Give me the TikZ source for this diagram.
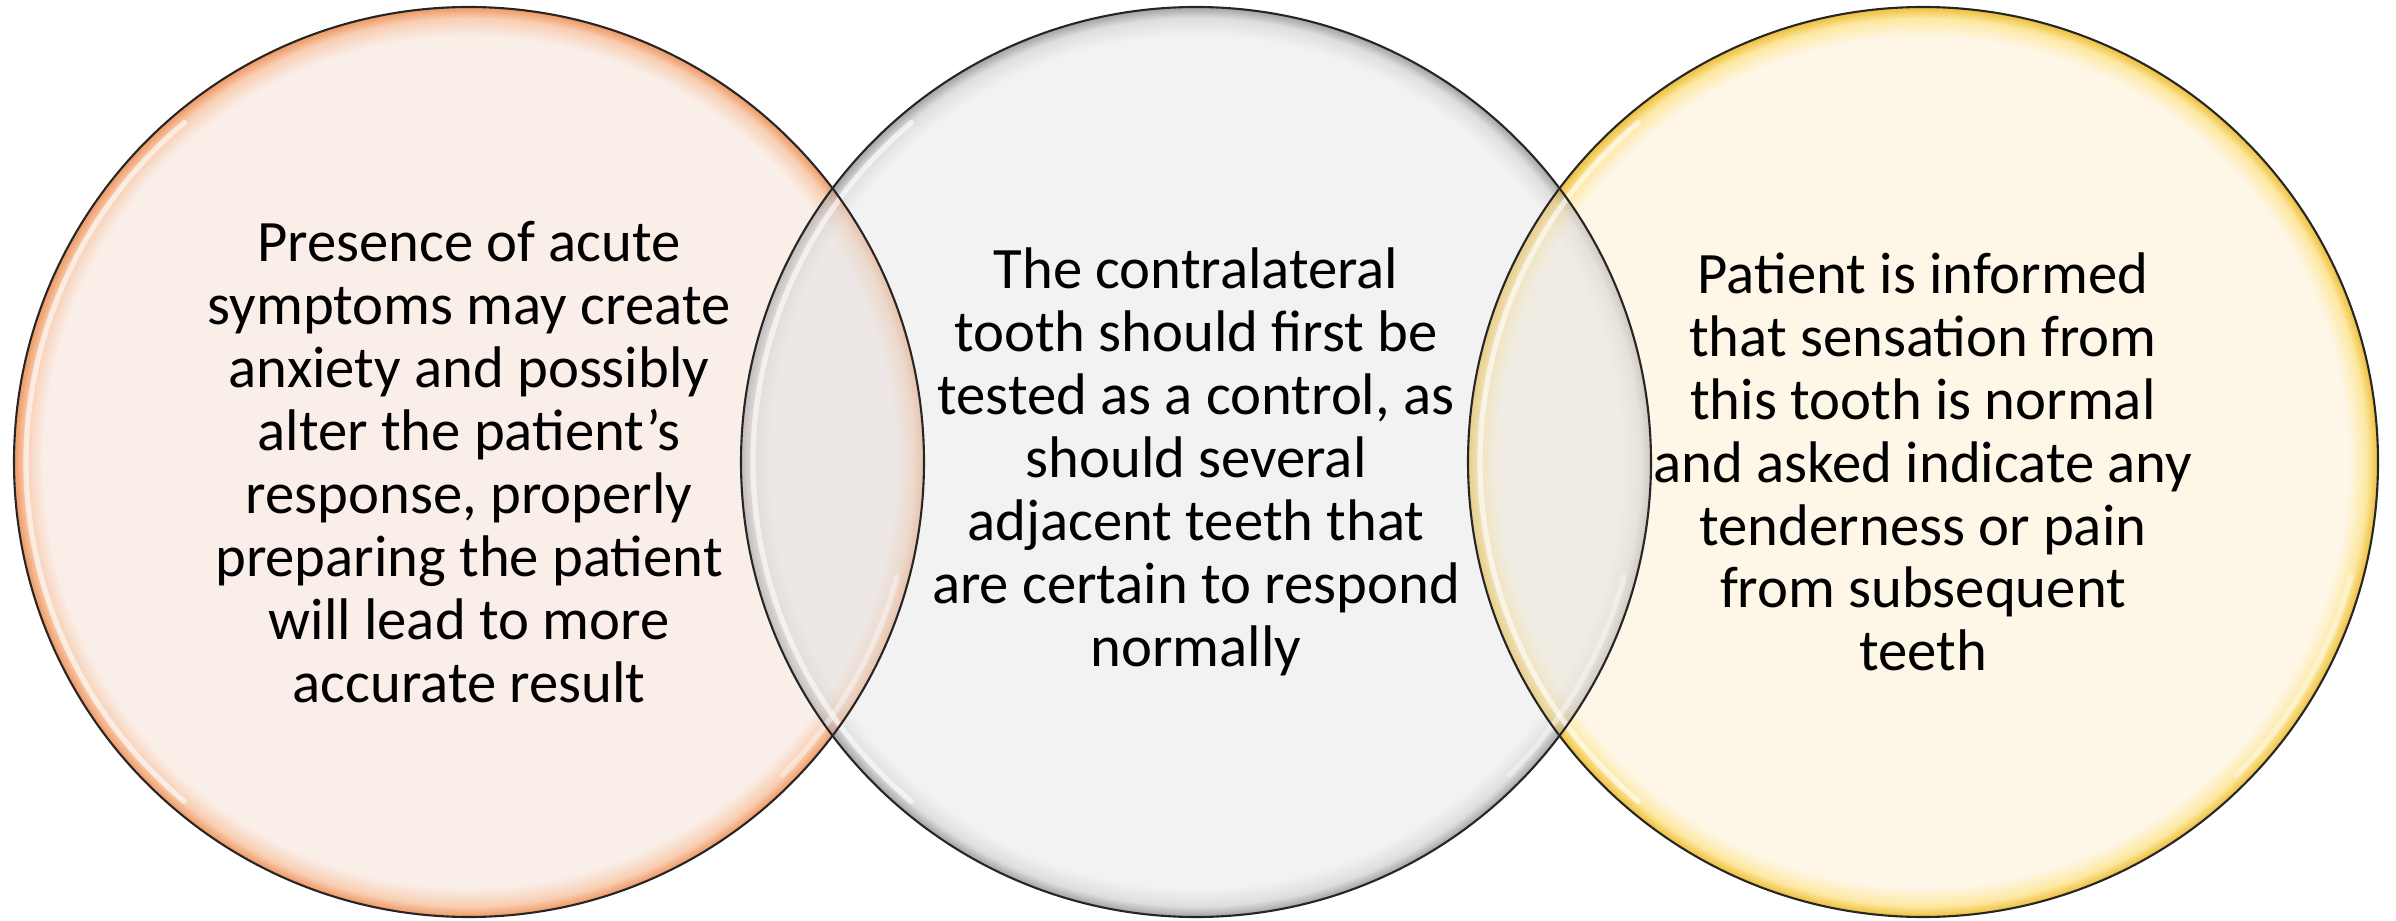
\documentclass[tikz,border=0pt]{standalone}
\usepackage{fontspec}
\setmainfont{Carlito}
\definecolor{Lfill}{RGB}{249,238,232}
\definecolor{Lrim}{RGB}{248,206,178}
\definecolor{Ldark}{RGB}{240,160,110}
\definecolor{Mfill}{RGB}{242,242,242}
\definecolor{Mrim}{RGB}{222,222,222}
\definecolor{Mdark}{RGB}{172,172,172}
\definecolor{Rfill}{RGB}{254,246,230}
\definecolor{Rrim}{RGB}{253,232,160}
\definecolor{Rdark}{RGB}{240,196,72}
\pgfdeclareradialshading{lshade}{\pgfpoint{0bp}{0bp}}{color(0bp)=(Lfill); color(23.4bp)=(Lfill); color(24.4bp)=(Lrim); color(24.9bp)=(Ldark); color(25bp)=(Ldark); color(50bp)=(Ldark)}
\pgfdeclareradialshading{mshade}{\pgfpoint{0bp}{0bp}}{color(0bp)=(Mfill); color(23.4bp)=(Mfill); color(24.4bp)=(Mrim); color(24.9bp)=(Mdark); color(25bp)=(Mdark); color(50bp)=(Mdark)}
\pgfdeclareradialshading{rshade}{\pgfpoint{0bp}{0bp}}{color(0bp)=(Rfill); color(23.4bp)=(Rfill); color(24.4bp)=(Rrim); color(24.9bp)=(Rdark); color(25bp)=(Rdark); color(50bp)=(Rdark)}
\begin{document}
\begin{tikzpicture}[
  bubble/.style={circle, minimum size=9.1cm, inner sep=0pt, outer sep=0pt},
  txt/.style={align=center, font=\fontsize{16.7}{17.9}\selectfont, text=black},
  gloss/.style={white, line width=1.5pt, opacity=0.6, line cap=round},
  rimline/.style={line width=0.6pt, black!85}]
\useasboundingbox (0,0) rectangle (23.96,9.20);
\node[bubble, shading=lshade] (L) at (4.69,4.58) {};
\node[bubble, shading=mshade] (M) at (11.96,4.58) {};
\node[bubble, shading=rshade] (R) at (19.23,4.58) {};
% overlaps
\begin{scope}
  \clip (M.center) circle (4.55);
  \shade[shading=lshade, opacity=0.45] (L.center) circle (4.55);
  \fill[black, opacity=0.03] (L.center) circle (4.55);
\end{scope}
\begin{scope}
  \clip (R.center) circle (4.55);
  \shade[shading=mshade, opacity=0.45] (M.center) circle (4.55);
  \fill[black, opacity=0.03] (M.center) circle (4.55);
\end{scope}
% gloss highlights
\foreach \c in {L,M,R}{
  \draw[gloss] ([shift={(130:4.43)}]\c.center) arc (130:230:4.43);
  \draw[gloss, opacity=0.4] ([shift={(-45:4.43)}]\c.center) arc (-45:-15:4.43);
}
% borders
\foreach \c in {L,M,R}{
  \draw[rimline] (\c.center) circle (4.55);
}
% texts
\node[txt] (tl) at (L.center) {Presence of acute\\symptoms may create\\anxiety and possibly\\alter the patient’s\\response, properly\\preparing the patient\\will lead to more\\accurate result};
\node[txt] (tm) at (M.center) {The contralateral\\tooth should first be\\tested as a control, as\\should several\\adjacent teeth that\\are certain to respond\\normally};
\node[txt] (tr) at (R.center) {Patient is informed\\that sensation from\\this tooth is normal\\and asked indicate any\\tenderness or pain\\from subsequent\\teeth};
\end{tikzpicture}
\end{document}
